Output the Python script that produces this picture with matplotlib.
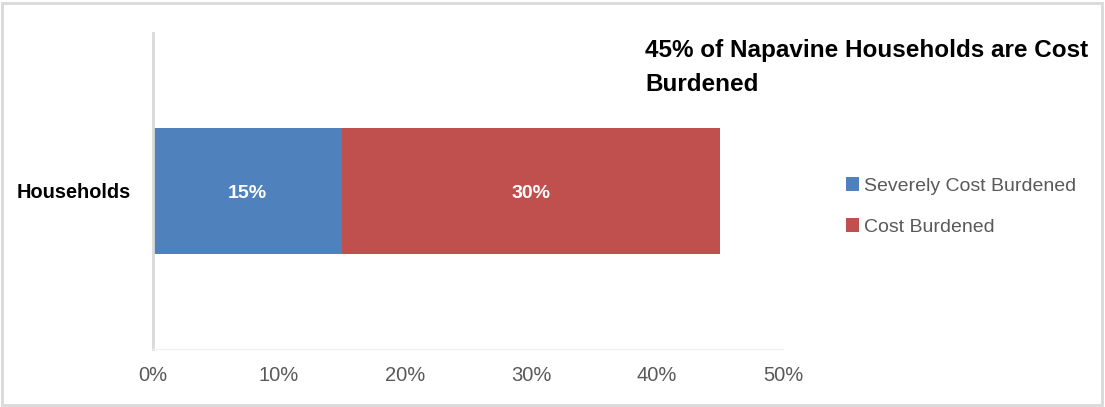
import matplotlib
matplotlib.use("Agg")
import matplotlib.pyplot as plt
from matplotlib.patches import Rectangle

plt.rcParams["font.family"] = ["Liberation Sans", "DejaVu Sans"]

categories = ["Households"]
series_names = ["Severely Cost Burdened", "Cost Burdened"]
severely = [15]
burdened = [30]
xticks = [0, 10, 20, 30, 40, 50]
title_lines = ["45% of Napavine Households are Cost", "Burdened"]

colors = ["#4F81BD", "#C0504D"]

W, H = 1105, 407
fig = plt.figure(figsize=(W / 100, H / 100), dpi=100)
fig.patches.append(Rectangle((2 / W, 2 / H), (W - 5) / W, (H - 5) / H, transform=fig.transFigure,
                             fill=False, edgecolor="#D9D9D9", linewidth=2))

ax = fig.add_axes([153 / W, (H - 349) / H, 630 / W, 316 / H])
ax.set_xlim(0, 50)
ax.set_ylim(-0.5, 0.5)

left = [0] * len(categories)
for name, vals, col in zip(series_names, [severely, burdened], colors):
    bars = ax.barh(categories, vals, left=left, height=0.40, color=col, label=name)
    for b, v in zip(bars, vals):
        ax.text(b.get_x() + b.get_width() / 2, b.get_y() + b.get_height() / 2, f"{v}%",
                ha="center", va="center_baseline", color="white", fontsize=14, fontweight="bold")
    left = [l + v for l, v in zip(left, vals)]

ax.set_xticks(xticks)
ax.set_xticklabels([f"{t}%" for t in xticks], color="#595959", fontsize=14.5)
ax.tick_params(axis="x", length=0, pad=12)
ax.tick_params(axis="y", length=0, pad=15.8)
for lbl in ax.get_yticklabels():
    lbl.set_fontweight("bold")
    lbl.set_fontsize(14.4)
    lbl.set_color("black")

for s in ["top", "right"]:
    ax.spines[s].set_visible(False)
ax.spines["left"].set_color("#D9D9D9")
ax.spines["left"].set_linewidth(2)
ax.spines["bottom"].set_color("#F2F2F2")
ax.spines["bottom"].set_linewidth(1)

baselines = [57.3, 90.7]
for line, yb in zip(title_lines, baselines):
    fig.text(645 / W, 1 - yb / H, line, ha="left", va="baseline", fontsize=17.5,
             fontweight="bold", color="black")

leg = fig.legend(loc="upper left", bbox_to_anchor=(828 / W, 1 - 160 / H), frameon=False,
                 fontsize=14, labelcolor="#595959", handlelength=0.67, handleheight=0.67,
                 handletextpad=0.26, labelspacing=1.2)

fig.savefig("out.png", dpi=100)
